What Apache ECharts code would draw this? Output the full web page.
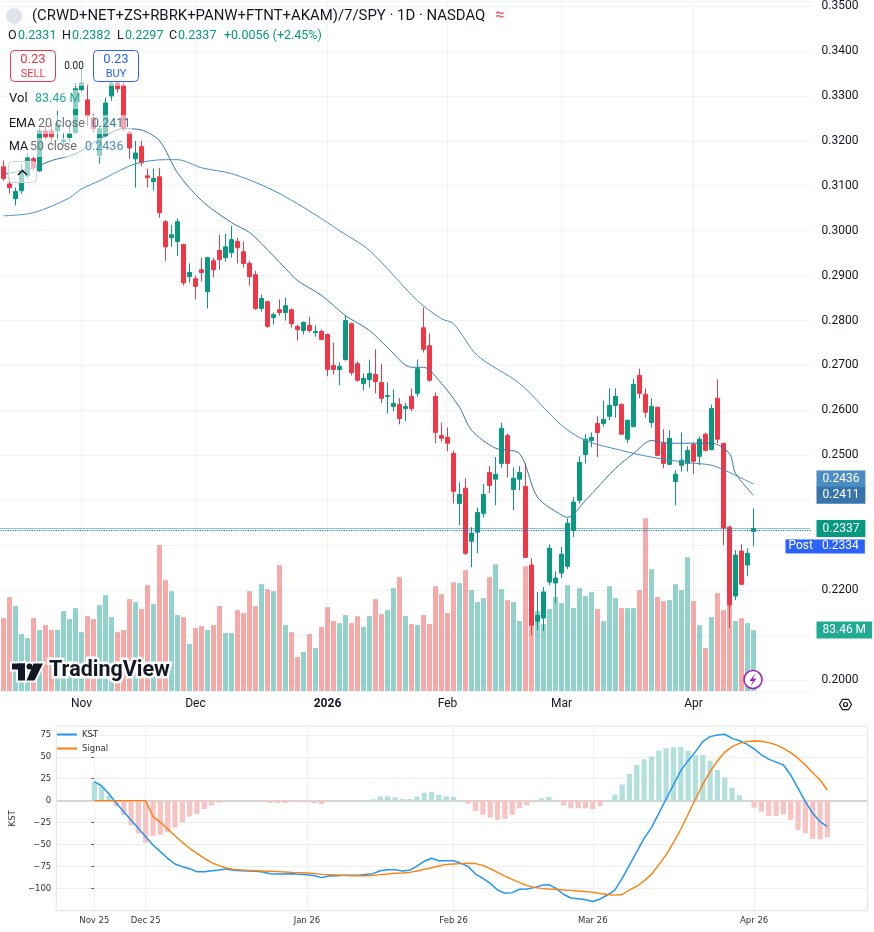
<!DOCTYPE html>
<html>
<head>
<meta charset="utf-8">
<title>(CRWD+NET+ZS+RBRK+PANW+FTNT+AKAM)/7/SPY</title>
<script src="https://cdn.jsdelivr.net/npm/echarts@6.0.0/dist/echarts.min.js"></script>
<style>
  html, body { margin: 0; padding: 0; background: #ffffff; }
  #chart { width: 874px; height: 932px; }
</style>
</head>
<body>
<div id="chart"></div>
<script>
'use strict';

// daily candles, [open, close, low, high]
var candles = [
    [0.3142, 0.3116, 0.3111, 0.3156], [0.3104, 0.3096, 0.3082, 0.3118], [0.3071, 0.3087, 0.3056, 0.3096],
    [0.3089, 0.3133, 0.3082, 0.3149], [0.3122, 0.3162, 0.3116, 0.3173], [0.3160, 0.3140, 0.3133, 0.3164],
    [0.3133, 0.3222, 0.3131, 0.3229], [0.3222, 0.3209, 0.3204, 0.3233], [0.3222, 0.3209, 0.3193, 0.3238],
    [0.3222, 0.3238, 0.3200, 0.3267], [0.3198, 0.3202, 0.3189, 0.3218], [0.3207, 0.3216, 0.3196, 0.3240],
    [0.3218, 0.3316, 0.3216, 0.3329], [0.3313, 0.3329, 0.3307, 0.3362], [0.3291, 0.3256, 0.3233, 0.3327],
    [0.3251, 0.3227, 0.3218, 0.3260], [0.3167, 0.3227, 0.3149, 0.3233], [0.3211, 0.3284, 0.3209, 0.3296],
    [0.3300, 0.3327, 0.3289, 0.3333], [0.3329, 0.3316, 0.3307, 0.3338], [0.3324, 0.3227, 0.3222, 0.3338],
    [0.3218, 0.3184, 0.3160, 0.3222], [0.3160, 0.3173, 0.3096, 0.3200], [0.3187, 0.3151, 0.3144, 0.3200],
    [0.3122, 0.3118, 0.3096, 0.3138], [0.3109, 0.3116, 0.3089, 0.3138], [0.3120, 0.3040, 0.3029, 0.3140],
    [0.3020, 0.2964, 0.2933, 0.3024], [0.2984, 0.2991, 0.2964, 0.3013], [0.2976, 0.3020, 0.2944, 0.3027],
    [0.2969, 0.2884, 0.2878, 0.2971], [0.2898, 0.2907, 0.2884, 0.2927], [0.2893, 0.2876, 0.2847, 0.2900],
    [0.2913, 0.2907, 0.2887, 0.2940], [0.2864, 0.2940, 0.2827, 0.2942], [0.2933, 0.2913, 0.2896, 0.2940],
    [0.2956, 0.2936, 0.2913, 0.2991], [0.2940, 0.2964, 0.2931, 0.2993], [0.2951, 0.2980, 0.2940, 0.3011],
    [0.2976, 0.2962, 0.2927, 0.2984], [0.2953, 0.2927, 0.2918, 0.2976], [0.2927, 0.2898, 0.2878, 0.2933],
    [0.2902, 0.2827, 0.2824, 0.2911], [0.2827, 0.2849, 0.2820, 0.2858], [0.2842, 0.2787, 0.2784, 0.2844],
    [0.2807, 0.2813, 0.2791, 0.2818], [0.2824, 0.2818, 0.2811, 0.2847], [0.2818, 0.2833, 0.2800, 0.2851],
    [0.2824, 0.2793, 0.2784, 0.2827], [0.2787, 0.2780, 0.2756, 0.2791], [0.2778, 0.2796, 0.2769, 0.2798],
    [0.2789, 0.2778, 0.2773, 0.2809], [0.2773, 0.2776, 0.2764, 0.2789], [0.2776, 0.2758, 0.2756, 0.2780],
    [0.2769, 0.2691, 0.2676, 0.2771], [0.2700, 0.2691, 0.2680, 0.2751], [0.2691, 0.2698, 0.2656, 0.2707],
    [0.2713, 0.2800, 0.2711, 0.2811], [0.2793, 0.2684, 0.2678, 0.2796], [0.2704, 0.2667, 0.2664, 0.2709],
    [0.2660, 0.2671, 0.2644, 0.2682], [0.2669, 0.2682, 0.2651, 0.2713], [0.2680, 0.2664, 0.2638, 0.2736],
    [0.2662, 0.2627, 0.2616, 0.2704], [0.2631, 0.2633, 0.2593, 0.2662], [0.2609, 0.2616, 0.2598, 0.2647],
    [0.2613, 0.2582, 0.2569, 0.2627], [0.2604, 0.2609, 0.2576, 0.2616], [0.2631, 0.2604, 0.2598, 0.2649],
    [0.2638, 0.2693, 0.2631, 0.2713], [0.2784, 0.2736, 0.2729, 0.2829], [0.2744, 0.2667, 0.2664, 0.2771],
    [0.2631, 0.2551, 0.2527, 0.2640], [0.2544, 0.2538, 0.2531, 0.2573], [0.2540, 0.2527, 0.2509, 0.2562],
    [0.2504, 0.2420, 0.2393, 0.2511], [0.2393, 0.2413, 0.2344, 0.2440], [0.2427, 0.2282, 0.2278, 0.2449],
    [0.2309, 0.2327, 0.2251, 0.2340], [0.2329, 0.2373, 0.2282, 0.2384], [0.2371, 0.2413, 0.2362, 0.2436],
    [0.2462, 0.2433, 0.2416, 0.2476], [0.2447, 0.2458, 0.2389, 0.2496], [0.2482, 0.2560, 0.2473, 0.2573],
    [0.2544, 0.2482, 0.2451, 0.2549], [0.2424, 0.2449, 0.2378, 0.2473], [0.2447, 0.2462, 0.2422, 0.2476],
    [0.2431, 0.2273, 0.2273, 0.2482], [0.2256, 0.2122, 0.2100, 0.2271], [0.2131, 0.2144, 0.2111, 0.2196],
    [0.2138, 0.2196, 0.2109, 0.2207], [0.2218, 0.2293, 0.2211, 0.2302], [0.2216, 0.2227, 0.2171, 0.2242],
    [0.2238, 0.2280, 0.2227, 0.2296], [0.2253, 0.2349, 0.2247, 0.2360], [0.2333, 0.2396, 0.2318, 0.2407],
    [0.2400, 0.2484, 0.2393, 0.2498], [0.2502, 0.2536, 0.2482, 0.2547], [0.2533, 0.2540, 0.2518, 0.2551],
    [0.2571, 0.2551, 0.2496, 0.2587], [0.2571, 0.2580, 0.2564, 0.2622], [0.2587, 0.2611, 0.2578, 0.2649],
    [0.2611, 0.2631, 0.2584, 0.2649], [0.2613, 0.2547, 0.2547, 0.2616], [0.2536, 0.2578, 0.2527, 0.2580],
    [0.2564, 0.2658, 0.2562, 0.2671], [0.2678, 0.2638, 0.2627, 0.2693], [0.2636, 0.2596, 0.2584, 0.2649],
    [0.2573, 0.2609, 0.2562, 0.2627], [0.2607, 0.2500, 0.2498, 0.2609], [0.2527, 0.2482, 0.2471, 0.2558],
    [0.2480, 0.2538, 0.2478, 0.2556], [0.2442, 0.2458, 0.2389, 0.2467], [0.2478, 0.2489, 0.2464, 0.2551],
    [0.2482, 0.2511, 0.2464, 0.2520], [0.2524, 0.2487, 0.2458, 0.2529], [0.2498, 0.2536, 0.2478, 0.2542],
    [0.2547, 0.2511, 0.2509, 0.2551], [0.2513, 0.2604, 0.2511, 0.2613], [0.2627, 0.2536, 0.2527, 0.2669],
    [0.2527, 0.2338, 0.2300, 0.2527], [0.2340, 0.2167, 0.2116, 0.2344], [0.2187, 0.2278, 0.2178, 0.2289],
    [0.2287, 0.2213, 0.2211, 0.2302], [0.2256, 0.2282, 0.2231, 0.2293], [0.2331, 0.2337, 0.2297, 0.2382]
];

// volume, millions
var volume = [
    99.9, 128.6, 116.3, 78.0, 72.5, 99.9, 83.5, 90.3, 83.5, 83.5,
    109.4, 98.5, 113.5, 80.7, 102.6, 98.5, 117.6, 131.3, 101.2, 80.7,
    83.5, 125.9, 121.8, 112.2, 145.0, 119.0, 199.7, 151.8, 136.8, 104.0,
    101.2, 64.3, 86.2, 88.9, 83.5, 90.3, 116.3, 79.3, 79.3, 110.8,
    106.7, 136.8, 116.3, 146.4, 139.5, 136.8, 172.4, 90.3, 80.7, 46.5,
    53.4, 78.0, 58.8, 87.6, 114.9, 95.8, 93.0, 104.0, 93.0, 102.6,
    87.6, 102.6, 125.9, 105.3, 110.8, 140.9, 156.0, 102.6, 91.7, 90.3,
    104.0, 91.7, 143.6, 132.7, 106.7, 149.1, 147.7, 165.5, 138.2, 121.8,
    127.2, 156.0, 173.7, 139.5, 124.5, 121.8, 95.8, 171.0, 123.1, 109.4,
    91.7, 112.2, 128.6, 120.4, 145.0, 113.5, 140.9, 130.0, 135.4, 112.2,
    95.8, 143.6, 127.2, 113.5, 113.5, 113.5, 138.2, 236.7, 166.9, 128.6,
    123.1, 124.5, 146.4, 138.2, 183.3, 123.1, 90.3, 58.8, 101.2, 134.1,
    110.8, 130.0, 95.8, 99.9, 93.0, 83.46
];

// [bar index, value] read along the two averages
var ema20 = [
    [0, 0.3125], [5, 0.3140], [8, 0.3156], [12, 0.3171], [16, 0.3204], [20, 0.3227], [23, 0.3224],
    [26, 0.3200], [29, 0.3129], [33, 0.3067], [38, 0.3018], [41, 0.2996], [43, 0.2971], [47, 0.2916],
    [49, 0.2889], [53, 0.2856], [57, 0.2811], [61, 0.2778], [64, 0.2740], [68, 0.2696], [70, 0.2696],
    [73, 0.2660], [76, 0.2607], [78, 0.2556], [82, 0.2516], [86, 0.2504], [89, 0.2407], [93, 0.2367],
    [94, 0.2362], [97, 0.2400], [102, 0.2471], [105, 0.2504], [108, 0.2533], [111, 0.2527],
    [118, 0.2527], [121, 0.2504], [122, 0.2460], [125, 0.2411]
];
var ma50 = [
    [0, 0.3033], [5, 0.3040], [11, 0.3073], [13, 0.3093], [16, 0.3111], [22, 0.3149], [27, 0.3158],
    [29, 0.3158], [33, 0.3140], [38, 0.3127], [44, 0.3096], [49, 0.3060], [54, 0.3018], [56, 0.3000],
    [61, 0.2956], [69, 0.2844], [73, 0.2804], [75, 0.2793], [79, 0.2722], [86, 0.2660], [93, 0.2567],
    [97, 0.2533], [103, 0.2511], [108, 0.2496], [114, 0.2484], [118, 0.2478], [121, 0.2462], [125, 0.2436]
];

var monthIdx = [13, 32, 54, 74, 93, 115];
var monthLabels = ['Nov', 'Dec', '2026', 'Feb', 'Mar', 'Apr'];
var priceLabels = [0.20, 0.22, 0.25, 0.26, 0.27, 0.28, 0.29, 0.30, 0.31, 0.32, 0.33, 0.34, 0.35];

// KST panel
var kst = [
    21.7, 16.7, 7.6, -3, -12.5, -22, -31.5, -41, -50.5, -58.1,
    -65.7, -72.2, -75.2, -77.5, -81, -80.9, -79.8, -79, -77.9, -79.4,
    -79.8, -80.2, -80.5, -81.3, -83.2, -83.6, -83.6, -83.2, -84, -84.3,
    -85.5, -87.7, -85.9, -85.5, -85.1, -85.1, -85.1, -84, -83.2, -79.8,
    -78.6, -78.6, -80.2, -79.4, -74.5, -69.1, -65.7, -68.4, -68.4, -68.4,
    -71.4, -75.2, -83.6, -88.5, -94.2, -101.8, -105.6, -104.8, -101, -100.7,
    -99.1, -96.5, -95.7, -99.9, -106.7, -110.9, -111.7, -113, -115, -112,
    -107.5, -101.9, -88.6, -73.4, -58.1, -43, -30.8, -14.4, 1.9, 17.9,
    34.2, 45.6, 55.9, 67.3, 73, 74.9, 75.7, 71, 68.3, 64.5,
    59.1, 52.3, 47.3, 43.9, 40.6, 29.2, 14.1, -1.1, -14.4, -24,
    -29.6
];
var signal = [
    0, 0, 0, 0, 0, 0, 0, 0, -18.2, -24.7,
    -32.3, -39.9, -47.5, -54.3, -60, -65.7, -70.7, -74.1, -76.7, -78.3,
    -79, -79.4, -79.8, -80.2, -80.5, -80.9, -81.3, -81.7, -82, -82.4,
    -83.2, -84, -84.3, -84.7, -85.1, -85.5, -85.5, -85.5, -85.1, -84.3,
    -83.6, -82.8, -82.4, -81.7, -80.2, -78.3, -76.4, -74.5, -72.6, -72.2,
    -71.8, -71.4, -71.8, -73.7, -77.5, -81.7, -85.9, -89.6, -93.4, -96.5,
    -98.8, -99.9, -100.7, -101, -101.8, -102.2, -102.9, -103.5, -104.5, -105.8,
    -107, -107.7, -106.9, -101.6, -97.5, -91.4, -83.8, -73.2, -61.8, -47.8,
    -32.6, -15.5, 1.9, 18.6, 33.1, 45.2, 55.1, 61.6, 65.4, 67.3,
    68, 67.7, 66.1, 63.5, 59.6, 54.7, 48.2, 40.6, 31.9, 23.6,
    12.2
];
var hist = [
    21.3, 16, 5.3, -6, -16.3, -27.7, -37.2, -48, -40.3, -39,
    -36, -30.4, -24.7, -18.2, -15.2, -9.5, -5.3, -2.3, -0.5, -0.3,
    -0.2, -0.2, -0.2, -1.1, -2.7, -2.7, -2.7, -1.5, -1.9, -1.9,
    -2.7, -3.8, -0.3, -0.2, -0.2, -0.2, 0.2, 0.8, 1.5, 4.9,
    4.9, 3.8, 1.9, 1.9, 4.9, 9.1, 9.9, 6.5, 4.9, 4.2,
    0.3, -3.4, -11.8, -16, -19.4, -22, -20.9, -16, -8.7, -5.3,
    -1.1, 2.7, 4.2, -0.5, -5.3, -8.7, -8.7, -8.7, -9.5, -6.1,
    0.5, 6.8, 18.6, 30.4, 40.7, 47.1, 50.5, 57, 59.7, 60.8,
    61.2, 57, 52.1, 52.1, 45.6, 35, 26.6, 14.8, 6.1, 0.3,
    -8, -12.5, -17.5, -17.5, -15.6, -22, -33.4, -37.2, -43.7, -44.1,
    -41.8
];
var kstTickIdx = [0, 7, 29, 49, 68, 90];
var kstTickLabels = ['Nov 25', 'Dec 25', 'Jan 26', 'Feb 26', 'Mar 26', 'Apr 26'];
var kstTicks = [-100, -75, -50, -25, 0, 25, 50, 75];

var UP = '#089981', DOWN = '#f23645';
var FONT = 'Roboto, "Noto Sans", sans-serif';
var MPL = '"DejaVu Sans", sans-serif';
var CLEAR = { color: 'rgba(0,0,0,0)', width: 1, type: 'solid' };

var slots = 135; // bars plus empty room on the right
var cats = [];
for (var i = 0; i < slots; i++) cats.push(String(i));

var volData = volume.map(function (v, i) {
    var up = candles[i][1] >= candles[i][0];
    return { value: v, itemStyle: { color: up ? 'rgba(38,166,154,0.5)' : 'rgba(239,83,80,0.5)' } };
});
var histData = hist.map(function (v, i) {
    return { value: [i, v], itemStyle: { color: v >= 0 ? '#b3e0dc' : '#f9c3c2' } };
});
var kstData = kst.map(function (v, i) { return [i, v]; });
var sigData = signal.map(function (v, i) { return [i, v]; });

function tag(text, bg, dy) {
    return {
        show: true, position: 'end', distance: 6, formatter: text, opacity: 1,
        color: '#ffffff', backgroundColor: bg, fontSize: 12, fontFamily: FONT,
        lineHeight: 15, padding: [1, 6, 1, 6], offset: [0, dy]
    };
}
function minus(v) { return v < 0 ? '\u2212' + Math.abs(v) : String(v); }

// header, legend and logo overlays
function T(x, y, text, size, color, extra) {
    var s = { text: text, x: x, y: y, fill: color, font: size + 'px ' + FONT, align: 'left', verticalAlign: 'middle' };
    if (extra) for (var k in extra) s[k] = extra[k];
    return { type: 'text', z: 100, silent: true, style: s };
}
var veil = 'rgba(255,255,255,0.55)';
var g = [
    { type: 'rect', z: 90, silent: true, shape: { x: 5, y: 47, width: 140, height: 39 }, style: { fill: veil } },
    { type: 'rect', z: 90, silent: true, shape: { x: 5, y: 90, width: 78, height: 19 }, style: { fill: veil } },
    { type: 'rect', z: 90, silent: true, shape: { x: 5, y: 115, width: 127, height: 19 }, style: { fill: veil } },
    { type: 'rect', z: 90, silent: true, shape: { x: 5, y: 138, width: 121, height: 19 }, style: { fill: veil } },
    { type: 'circle', z: 100, silent: true, shape: { cx: 14, cy: 16, r: 8 }, style: { fill: '#e0e3eb' } },
    T(32, 16, '(CRWD+NET+ZS+RBRK+PANW+FTNT+AKAM)/7/SPY \u00b7 1D \u00b7 NASDAQ', 14.9, '#131722'),
    T(495, 16, '\u2248', 17, '#f7525f'),
    T(8, 36, 'O', 12.5, '#131722'), T(18, 36, '0.2331', 12.5, UP),
    T(62, 36, 'H', 12.5, '#131722'), T(72, 36, '0.2382', 12.5, UP),
    T(117, 36, 'L', 12.5, '#131722'), T(125, 36, '0.2297', 12.5, UP),
    T(169, 36, 'C', 12.5, '#131722'), T(178, 36, '0.2337', 12.5, UP),
    T(224, 36, '+0.0056 (+2.45%)', 12.5, UP),
    { type: 'rect', z: 100, silent: true, shape: { x: 10.5, y: 50.5, width: 45, height: 31, r: 4 }, style: { fill: '#ffffff', stroke: DOWN, lineWidth: 1 } },
    T(33, 60, '0.23', 13, DOWN, { align: 'center' }),
    T(33, 74, 'SELL', 11, DOWN, { align: 'center' }),
    T(74, 66, '0.00', 10, '#131722', { align: 'center' }),
    { type: 'rect', z: 100, silent: true, shape: { x: 93.5, y: 50.5, width: 45, height: 31, r: 4 }, style: { fill: '#ffffff', stroke: '#2962ff', lineWidth: 1 } },
    T(116, 60, '0.23', 13, '#2962ff', { align: 'center' }),
    T(116, 74, 'BUY', 11, '#2962ff', { align: 'center' }),
    T(9, 99, 'Vol', 13, '#131722'), T(35, 99, '83.46 M', 12.5, '#22ab94'),
    T(9, 124, 'EMA', 12.5, '#131722'), T(38, 124, '20 close', 12.5, '#6a6d78'), T(92, 124, '0.2411', 12.5, '#3774aa'),
    T(9, 147, 'MA', 12.5, '#131722'), T(30, 147, '50 close', 12.5, '#6a6d78'), T(85, 147, '0.2436', 12.5, '#4b8cc4'),
    { type: 'rect', z: 100, silent: true, shape: { x: 8.5, y: 161.5, width: 28, height: 21, r: 4 }, style: { fill: 'rgba(255,255,255,0.6)', stroke: '#d1d4dc', lineWidth: 1 } },
    { type: 'polyline', z: 101, silent: true, shape: { points: [[18, 175], [22.5, 170.5], [27, 175]] }, style: { stroke: '#131722', lineWidth: 1.5, fill: null } },
    // logo with white halo
    { type: 'rect', z: 100, silent: true, shape: { x: 12, y: 663.5, width: 13, height: 6 }, style: { fill: '#fff', stroke: '#fff', lineWidth: 4 } },
    { type: 'rect', z: 100, silent: true, shape: { x: 18, y: 663.5, width: 7, height: 17 }, style: { fill: '#fff', stroke: '#fff', lineWidth: 4 } },
    { type: 'circle', z: 100, silent: true, shape: { cx: 29.5, cy: 666.5, r: 3 }, style: { fill: '#fff', stroke: '#fff', lineWidth: 4 } },
    { type: 'polygon', z: 100, silent: true, shape: { points: [[33.5, 663.5], [43, 663.5], [34.5, 680.5], [26.5, 680.5]] }, style: { fill: '#fff', stroke: '#fff', lineWidth: 4 } },
    { type: 'rect', z: 101, silent: true, shape: { x: 12, y: 663.5, width: 13, height: 6 }, style: { fill: '#131722' } },
    { type: 'rect', z: 101, silent: true, shape: { x: 18, y: 663.5, width: 7, height: 17 }, style: { fill: '#131722' } },
    { type: 'circle', z: 101, silent: true, shape: { cx: 29.5, cy: 666.5, r: 3 }, style: { fill: '#131722' } },
    { type: 'polygon', z: 101, silent: true, shape: { points: [[33.5, 663.5], [43, 663.5], [34.5, 680.5], [26.5, 680.5]] }, style: { fill: '#131722' } },
    T(49, 671, 'TradingView', 21.5, '#ffffff', { font: 'bold 21.5px ' + FONT, stroke: '#ffffff', lineWidth: 5 }),
    T(49, 671, 'TradingView', 21.5, '#131722', { font: 'bold 21.5px ' + FONT }),
    // lightning button
    { type: 'circle', z: 100, silent: true, shape: { cx: 753, cy: 679.5, r: 9 }, style: { fill: '#ffffff', stroke: '#9c27b0', lineWidth: 1.6 } },
    { type: 'polygon', z: 101, silent: true, shape: { points: [[755.5, 673], [749.5, 681], [753, 681], [750.5, 686.5], [756.5, 678.5], [753, 678.5]] }, style: { fill: '#9c27b0' } },
    // settings icon
    { type: 'polygon', z: 100, silent: true, shape: { points: [[851.5, 704.5], [848.5, 709.7], [842.5, 709.7], [839.5, 704.5], [842.5, 699.3], [848.5, 699.3]] }, style: { fill: null, stroke: '#131722', lineWidth: 1.2 } },
    { type: 'circle', z: 100, silent: true, shape: { cx: 845.5, cy: 704.5, r: 2 }, style: { fill: null, stroke: '#131722', lineWidth: 1.2 } }
];

var chart = echarts.init(document.getElementById('chart'), null, { renderer: 'canvas' });
chart.setOption({
    animation: false,
    backgroundColor: '#ffffff',
    textStyle: { fontFamily: FONT },
    graphic: g,
    legend: {
        data: ['KST', 'Signal'], orient: 'vertical', left: 57, top: 730, padding: 0,
        itemWidth: 20, itemHeight: 2, itemGap: 5, icon: 'rect',
        textStyle: { fontSize: 8.5, color: '#333333', fontFamily: MPL }
    },
    grid: [
        { left: 0.5, right: 63.5, top: 0, bottom: 241, show: false },
        { left: 51.7, right: 6.3, top: 726, bottom: 21.3, show: true, borderColor: '#e2e2e2', borderWidth: 1 }
    ],
    xAxis: [
        {
            type: 'category', gridIndex: 0, data: cats, boundaryGap: true,
            axisLine: { show: false }, axisTick: { show: false }, splitLine: { show: false },
            axisLabel: {
                interval: function (i) { return monthIdx.indexOf(i) >= 0; },
                formatter: function (v, i) {
                    var k = monthIdx.indexOf(i);
                    if (k < 0) return '';
                    return monthLabels[k] === '2026' ? '{y|2026}' : monthLabels[k];
                },
                color: '#131722', fontSize: 12, margin: 7,
                rich: { y: { fontWeight: 'bold', fontSize: 12, color: '#131722' } }
            }
        },
        {
            type: 'value', gridIndex: 1, min: -5.2, max: 105.5,
            axisLine: { show: false }, splitLine: { show: false },
            axisTick: { show: true, customValues: kstTickIdx, length: 3, lineStyle: { color: '#555555' } },
            axisLabel: {
                customValues: kstTickIdx,
                formatter: function (v) { return kstTickLabels[kstTickIdx.indexOf(v)]; },
                fontSize: 8.5, color: '#333333', margin: 6, fontFamily: MPL
            }
        }
    ],
    yAxis: [
        {
            type: 'value', gridIndex: 0, position: 'right', min: 0.19756, max: 0.35111,
            minInterval: 0.01, maxInterval: 0.01, splitNumber: 15,
            axisLine: { show: false }, axisTick: { show: false },
            splitLine: { lineStyle: { color: '#f0f3fa', width: 1 } },
            axisLabel: {
                customValues: priceLabels,
                formatter: function (v) { return v.toFixed(4); },
                color: '#131722', fontSize: 12, margin: 11
            }
        },
        { type: 'value', gridIndex: 0, min: 0, max: 945.3, show: false, splitLine: { show: false } },
        {
            type: 'value', gridIndex: 1, min: -125.4, max: 85.1, minInterval: 25, maxInterval: 25, splitNumber: 8,
            name: 'KST', nameLocation: 'middle', nameGap: 38, nameRotate: 90,
            nameTextStyle: { fontSize: 8.5, color: '#333333', fontFamily: MPL },
            axisLine: { show: false },
            axisTick: { show: true, customValues: kstTicks, length: 3, lineStyle: { color: '#555555' } },
            axisLabel: { customValues: kstTicks, formatter: minus, fontSize: 8.5, color: '#333333', margin: 5, fontFamily: MPL },
            splitLine: { lineStyle: { color: '#efefef', width: 1 } }
        }
    ],
    series: [
        {
            name: 'Volume', type: 'bar', xAxisIndex: 0, yAxisIndex: 1, data: volData,
            barWidth: 5, z: 1, silent: true,
            markLine: {
                z: 10, silent: true, symbol: 'none', animation: false, precision: 4,
                data: [{ yAxis: 83.46, lineStyle: CLEAR, label: tag('83.46 M', '#22ab94', 0) }]
            }
        },
        {
            name: 'Price', type: 'candlestick', xAxisIndex: 0, yAxisIndex: 0, data: candles,
            barWidth: 5, z: 3, silent: true,
            itemStyle: { color: UP, color0: DOWN, borderColor: UP, borderColor0: DOWN, borderWidth: 1 },
            markLine: {
                z: 0, silent: true, symbol: 'none', animation: false,
                label: { show: false },
                lineStyle: { color: '#f0f3fa', type: 'solid', width: 1 },
                data: monthIdx.map(function (i) { return { xAxis: i }; })
            }
        },
        {
            name: 'MA 50', type: 'line', xAxisIndex: 0, yAxisIndex: 0, data: ma50,
            showSymbol: false, smooth: 0.3, z: 4, silent: true,
            lineStyle: { color: '#4b8cc4', width: 1 },
            markLine: {
                z: 11, silent: true, symbol: 'none', animation: false, precision: 4,
                data: [{ yAxis: 0.2436, lineStyle: CLEAR, label: tag('0.2436', '#4b8cc4', -5) }]
            }
        },
        {
            name: 'EMA 20', type: 'line', xAxisIndex: 0, yAxisIndex: 0, data: ema20,
            showSymbol: false, smooth: 0.3, z: 4, silent: true,
            lineStyle: { color: '#3774aa', width: 1 },
            markLine: {
                z: 12, silent: true, symbol: 'none', animation: false, precision: 4,
                data: [
                    { yAxis: 0.2411, lineStyle: CLEAR, label: tag('0.2411', '#3774aa', 0) },
                    { yAxis: 0.2337, lineStyle: { color: UP, type: 'dotted', width: 1 }, label: tag('0.2337', UP, 0) },
                    {
                        yAxis: 0.2334, lineStyle: { color: '#2962ff', type: 'dotted', width: 1.2 },
                        label: {
                            show: true, position: 'end', distance: 0, offset: [-25, 16.5], opacity: 1,
                            formatter: '{p|Post}{v|0.2334}',
                            rich: {
                                p: { backgroundColor: '#2962ff', color: '#ffffff', fontSize: 12, fontFamily: FONT, lineHeight: 15, padding: [1, 3, 1, 3] },
                                v: { backgroundColor: '#2962ff', color: '#ffffff', fontSize: 12, fontFamily: FONT, lineHeight: 15, padding: [1, 6, 1, 6] }
                            }
                        }
                    }
                ]
            }
        },
        {
            name: 'Hist', type: 'bar', xAxisIndex: 1, yAxisIndex: 2, data: histData,
            barWidth: 5.2, z: 2, silent: true,
            markLine: {
                z: 1, silent: true, symbol: 'none', animation: false, precision: 4,
                label: { show: false },
                data: [{ yAxis: 0, lineStyle: { color: '#d6d6d6', type: 'solid', width: 1.8 } }].concat(
                    kstTickIdx.map(function (i) { return { xAxis: i, lineStyle: { color: '#f0f0f0', type: 'solid', width: 1 } }; })
                )
            }
        },
        {
            name: 'KST', type: 'line', xAxisIndex: 1, yAxisIndex: 2, data: kstData,
            showSymbol: false, z: 4, silent: true, color: '#2196f3',
            lineStyle: { color: '#2196f3', width: 1.5 }
        },
        {
            name: 'Signal', type: 'line', xAxisIndex: 1, yAxisIndex: 2, data: sigData,
            showSymbol: false, z: 4, silent: true, color: '#ff7f0e',
            lineStyle: { color: '#ff7f0e', width: 1.4 }
        }
    ]
});
</script>
</body>
</html>
